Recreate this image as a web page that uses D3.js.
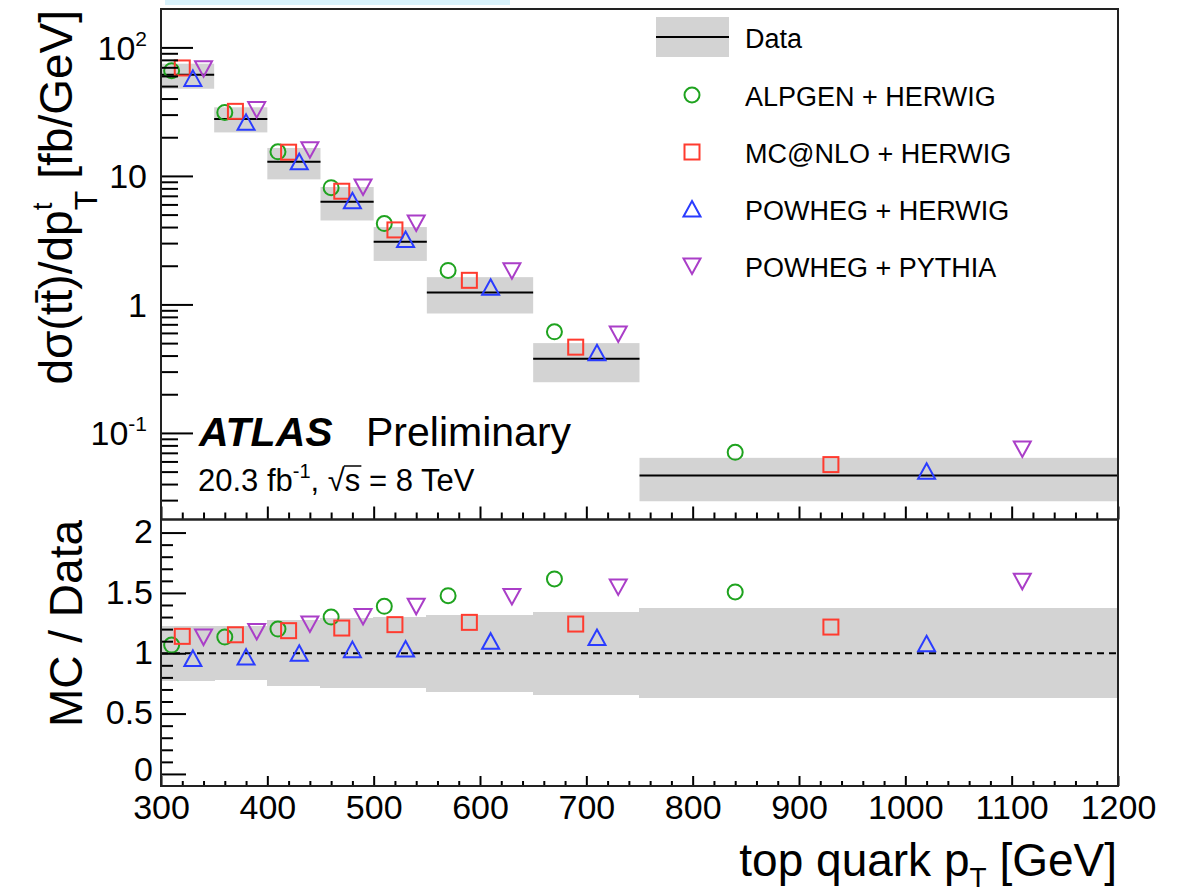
<!DOCTYPE html>
<html>
<head>
<meta charset="utf-8">
<script src="https://cdn.jsdelivr.net/npm/d3@7"></script>
<style>
  html, body { margin: 0; padding: 0; background: #fff; }
  svg { display: block; }
  text { font-family: "Liberation Sans", Arial, Helvetica, sans-serif; fill: #000; }
</style>
</head>
<body>
<svg id="chart" width="1184" height="894"></svg>
<script>
// ---------------- DATA ----------------
const binEdges = [300, 350, 400, 450, 500, 550, 650, 750, 1200];

// Data central value and total uncertainty band [fb/GeV]
const dataValues = [61.4, 27.7, 12.9, 6.3, 3.08, 1.24, 0.378, 0.0466];
const dataBandUp = [74.7, 34.2, 16.5, 8.2, 4.0, 1.63, 0.50, 0.064];
const dataBandDown = [47.7, 21.8, 9.4, 4.5, 2.18, 0.85, 0.248, 0.0294];

// MC predictions [fb/GeV]
const alpgenHerwig = [65.9, 31.2, 15.4, 8.1, 4.26, 1.84, 0.612, 0.0706];
const mcnloHerwig = [69.2, 31.8, 15.3, 7.6, 3.8, 1.54, 0.465, 0.0567];
const powhegHerwig = [57.4, 26.1, 12.9, 6.4, 3.2, 1.36, 0.42, 0.0503];
const powhegPythia = [68.2, 32.8, 16.0, 8.2, 4.3, 1.83, 0.589, 0.0751];

// MC / Data ratios
const ratioAlpgenHerwig = [1.068, 1.134, 1.20, 1.30, 1.389, 1.477, 1.616, 1.508];
const ratioMcnloHerwig = [1.14, 1.153, 1.187, 1.209, 1.237, 1.256, 1.242, 1.217];
const ratioPowhegHerwig = [0.957, 0.968, 1.0, 1.03, 1.035, 1.10, 1.13, 1.079];
const ratioPowhegPythia = [1.134, 1.181, 1.242, 1.305, 1.389, 1.47, 1.55, 1.596];

// Relative data uncertainty band in ratio panel
const ratioBandUp = [1.222, 1.225, 1.278, 1.292, 1.30, 1.317, 1.342, 1.375];
const ratioBandDown = [0.774, 0.78, 0.725, 0.714, 0.708, 0.683, 0.658, 0.628];

const seriesNames = ["ALPGEN + HERWIG", "MC@NLO + HERWIG", "POWHEG + HERWIG", "POWHEG + PYTHIA"];

const xMajorTicks = [300, 400, 500, 600, 700, 800, 900, 1000, 1100, 1200];
const yUpperMajorTicks = [0.1, 1, 10, 100];
const yLowerMajorTicks = [0, 0.5, 1, 1.5, 2];

// ---------------- STYLE / LAYOUT ----------------
const colors = ["#1fa31f", "#ff3b2f", "#2a3cff", "#aa3ec8"];
const shapes = ["circle", "square", "triangleUp", "triangleDown"];
const bandColor = "#d3d3d3";
const L = 161, R = 1118, TOP = 9, MID = 519.5, BOT = 786;

const svg = d3.select("#chart");
svg.append("rect").attr("width", 1184).attr("height", 894).attr("fill", "#fff");
// light selection artefact at very top of reference
svg.append("rect").attr("x", 165).attr("y", 0).attr("width", 345).attr("height", 5).attr("fill", "#d8f2fb");

const x = d3.scaleLinear().domain([300, 1200]).range([L, R]);
const yU = d3.scaleLog().domain([0.0212, 199]).range([MID, TOP]);
const yL = d3.scaleLinear().domain([-0.1, 2.1]).range([BOT, MID + 1]);

const series = [alpgenHerwig, mcnloHerwig, powhegHerwig, powhegPythia];
const ratios = [ratioAlpgenHerwig, ratioMcnloHerwig, ratioPowhegHerwig, ratioPowhegPythia];
const bins = dataValues.map((v, i) => ({ lo: binEdges[i], hi: binEdges[i + 1], v, up: dataBandUp[i], dn: dataBandDown[i], rup: ratioBandUp[i], rdn: ratioBandDown[i] }));
const markerX = (i, k) => binEdges[i] + (k + 1) / 5 * (binEdges[i + 1] - binEdges[i]);

function marker(g, shape, cx, cy, color) {
  const sw = 2;
  if (shape === "circle") {
    g.append("circle").attr("cx", cx).attr("cy", cy).attr("r", 7.5)
      .attr("fill", "none").attr("stroke", color).attr("stroke-width", sw);
  } else if (shape === "square") {
    g.append("rect").attr("x", cx - 7.5).attr("y", cy - 7.5).attr("width", 15).attr("height", 15)
      .attr("fill", "none").attr("stroke", color).attr("stroke-width", sw);
  } else if (shape === "triangleUp") {
    g.append("path").attr("d", `M${cx},${cy - 8}L${cx + 8.5},${cy + 7.5}L${cx - 8.5},${cy + 7.5}Z`)
      .attr("fill", "none").attr("stroke", color).attr("stroke-width", sw).attr("stroke-linejoin", "miter");
  } else {
    g.append("path").attr("d", `M${cx},${cy + 8}L${cx + 8.5},${cy - 7.5}L${cx - 8.5},${cy - 7.5}Z`)
      .attr("fill", "none").attr("stroke", color).attr("stroke-width", sw).attr("stroke-linejoin", "miter");
  }
}

// ---------------- UPPER PANEL ----------------
const up = svg.append("g");
up.selectAll("rect.band").data(bins).enter().append("rect")
  .attr("x", d => x(d.lo)).attr("width", d => x(d.hi) - x(d.lo))
  .attr("y", d => yU(d.up)).attr("height", d => yU(d.dn) - yU(d.up))
  .attr("fill", bandColor);
up.selectAll("line.data").data(bins).enter().append("line")
  .attr("x1", d => x(d.lo)).attr("x2", d => x(d.hi))
  .attr("y1", d => yU(d.v)).attr("y2", d => yU(d.v))
  .attr("stroke", "#000").attr("stroke-width", 2);
series.forEach((s, k) => {
  s.forEach((v, i) => marker(up, shapes[k], x(markerX(i, k)), yU(v), colors[k]));
});

// ---------------- LOWER PANEL ----------------
const lo = svg.append("g");
lo.selectAll("rect.band").data(bins).enter().append("rect")
  .attr("x", d => x(d.lo) - 0.5).attr("width", d => x(d.hi) - x(d.lo) + 1)
  .attr("y", d => yL(d.rup)).attr("height", d => yL(d.rdn) - yL(d.rup))
  .attr("fill", bandColor).attr("shape-rendering", "crispEdges");
lo.append("line").attr("x1", L).attr("x2", R).attr("y1", yL(1)).attr("y2", yL(1))
  .attr("stroke", "#000").attr("stroke-width", 1.8).attr("stroke-dasharray", "7,5");
ratios.forEach((s, k) => {
  s.forEach((v, i) => marker(lo, shapes[k], x(markerX(i, k)), yL(v), colors[k]));
});

// ---------------- AXES / TICKS ----------------
function styleAxis(g) {
  g.select(".domain").remove();
  g.selectAll(".tick line").attr("stroke", "#000").attr("stroke-width", 2);
  g.selectAll(".tick text").remove();
}
// upper left y axis
const yUMinor = [];
[0.01, 0.1, 1, 10, 100].forEach(dec => { for (let m = 2; m <= 9; m++) { const v = dec * m; if (v > 0.0212 && v < 199) yUMinor.push(v); } });
svg.append("g").attr("transform", `translate(${L},0)`)
  .call(d3.axisRight(yU).tickValues(yUpperMajorTicks).tickSize(32).tickFormat("")).call(styleAxis);
svg.append("g").attr("transform", `translate(${L},0)`)
  .call(d3.axisRight(yU).tickValues(yUMinor).tickSize(17).tickFormat("")).call(styleAxis);

// lower left y axis
const yLMinor = d3.range(0, 21).map(i => i / 10).filter(v => Math.abs(v * 2 - Math.round(v * 2)) > 1e-6);
svg.append("g").attr("transform", `translate(${L},0)`)
  .call(d3.axisRight(yL).tickValues(yLowerMajorTicks).tickSize(25).tickFormat("")).call(styleAxis);
svg.append("g").attr("transform", `translate(${L},0)`)
  .call(d3.axisRight(yL).tickValues(yLMinor).tickSize(12).tickFormat("")).call(styleAxis);

// x axes ticks
const xMinor = d3.range(300, 1201, 20).filter(v => v % 100 !== 0);
svg.append("g").attr("transform", `translate(0,${MID})`)
  .call(d3.axisTop(x).tickValues(xMajorTicks).tickSize(13).tickFormat("")).call(styleAxis);
svg.append("g").attr("transform", `translate(0,${MID})`)
  .call(d3.axisTop(x).tickValues(xMinor).tickSize(7).tickFormat("")).call(styleAxis);
svg.append("g").attr("transform", `translate(0,${BOT})`)
  .call(d3.axisTop(x).tickValues(xMajorTicks).tickSize(10).tickFormat("")).call(styleAxis);
svg.append("g").attr("transform", `translate(0,${BOT})`)
  .call(d3.axisTop(x).tickValues(xMinor).tickSize(5).tickFormat("")).call(styleAxis);

// x labels
const xl = svg.append("g").attr("transform", `translate(0,${BOT})`)
  .call(d3.axisBottom(x).tickValues(xMajorTicks).tickSize(0).tickPadding(9).tickFormat(d => String(d)));
xl.select(".domain").remove();
xl.selectAll("text").attr("font-size", 34).attr("font-family", '"Liberation Sans", Arial, sans-serif').attr("fill", "#000");

// lower y labels
const yll = svg.append("g").attr("transform", `translate(${L},0)`)
  .call(d3.axisLeft(yL).tickValues(yLowerMajorTicks).tickSize(0).tickPadding(8).tickFormat(d => String(d)));
yll.select(".domain").remove();
yll.selectAll("text").attr("font-size", 34).attr("dy", d => d === 0 ? "0.2em" : "0.3em")
  .attr("font-family", '"Liberation Sans", Arial, sans-serif').attr("fill", "#000");

// upper y labels (ROOT style powers of ten)
const upperLabels = [
  { v: 100, base: "10", exp: "2" },
  { v: 10, base: "10", exp: null },
  { v: 1, base: "1", exp: null },
  { v: 0.1, base: "10", exp: "-1" }
];
upperLabels.forEach(d => {
  const t = svg.append("text").attr("x", 147).attr("y", yU(d.v)).attr("dy", "0.36em")
    .attr("text-anchor", "end").attr("font-size", 34);
  t.append("tspan").text(d.base);
  if (d.exp) t.append("tspan").attr("font-size", 21).attr("dy", -14).text(d.exp);
});

// frames
svg.append("rect").attr("x", L).attr("y", TOP).attr("width", R - L).attr("height", MID - TOP)
  .attr("fill", "none").attr("stroke", "#222").attr("stroke-width", 2);
svg.append("rect").attr("x", L).attr("y", MID).attr("width", R - L).attr("height", BOT - MID)
  .attr("fill", "none").attr("stroke", "#222").attr("stroke-width", 2);

// ---------------- TITLES ----------------
const yt = svg.append("text").attr("transform", "translate(72,10) rotate(-90)")
  .attr("text-anchor", "end").attr("font-size", 46);
yt.append("tspan").text("d\u03C3(t");
yt.append("tspan").text("t\u0304");
yt.append("tspan").text(")/dp");
yt.append("tspan").attr("font-size", 32).attr("dy", 25).text("T");
yt.append("tspan").attr("font-size", 28).attr("dx", -19.5).attr("dy", -45).text("t");
yt.append("tspan").attr("dx", 11).attr("dy", 20).text(" [fb/GeV]");

svg.append("text").attr("transform", "translate(82,520) rotate(-90)")
  .attr("text-anchor", "end").attr("font-size", 46).text("MC / Data");

const xt = svg.append("text").attr("x", 1117).attr("y", 876).attr("text-anchor", "end").attr("font-size", 46);
xt.append("tspan").text("top quark p");
xt.append("tspan").attr("font-size", 28).attr("dy", 11).text("T");
xt.append("tspan").attr("dy", -11).text(" [GeV]");

// ATLAS label
svg.append("text").attr("x", 199).attr("y", 446).attr("font-size", 41)
  .attr("font-weight", "bold").attr("font-style", "italic").text("ATLAS");
svg.append("text").attr("x", 366).attr("y", 446).attr("font-size", 41).text("Preliminary");
const lu = svg.append("text").attr("x", 198).attr("y", 491).attr("font-size", 31);
lu.append("tspan").text("20.3 fb");
lu.append("tspan").attr("font-size", 20).attr("dy", -13).text("-1");
lu.append("tspan").attr("dy", 13).text(", \u221As");
lu.append("tspan").text(" = 8 TeV");
// overline above "s" of sqrt(s)
{
  const node = lu.node();
  const idx = ("20.3 fb" + "-1" + ", \u221A").length;
  const p0 = node.getStartPositionOfChar(idx);
  const p1 = node.getEndPositionOfChar(idx);
  svg.append("line").attr("x1", p0.x - 1).attr("x2", p1.x + 1)
    .attr("y1", 491 - 25).attr("y2", 491 - 25).attr("stroke", "#000").attr("stroke-width", 1.5);
}

// ---------------- LEGEND ----------------
const lg = svg.append("g");
lg.append("rect").attr("x", 656).attr("y", 17).attr("width", 73).attr("height", 40).attr("fill", bandColor);
lg.append("line").attr("x1", 656).attr("x2", 729).attr("y1", 37).attr("y2", 37).attr("stroke", "#000").attr("stroke-width", 2);
lg.append("text").attr("x", 745).attr("y", 38).attr("dy", "0.36em").attr("font-size", 27).text("Data");
const rowY = [95, 152, 209, 266];
seriesNames.forEach((name, k) => {
  marker(lg, shapes[k], 692, rowY[k], colors[k]);
  lg.append("text").attr("x", 745).attr("y", rowY[k] + 1).attr("dy", "0.36em").attr("font-size", 27).text(name);
});
</script>
</body>
</html>
